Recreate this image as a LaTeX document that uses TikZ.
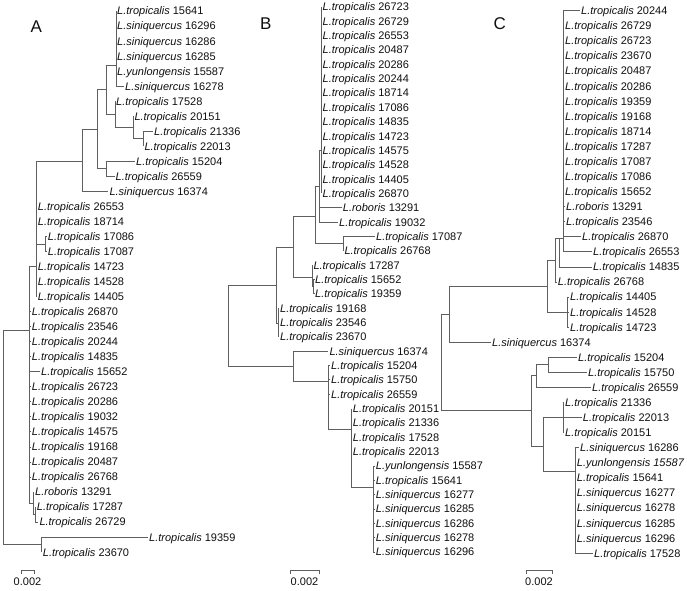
\documentclass[tikz,border=0pt]{standalone}
\usepackage{fontspec}
\setmainfont{Liberation Sans}
\definecolor{brc}{RGB}{95,95,95}
\definecolor{txc}{RGB}{15,15,15}
\newcommand\LTr{\textit{L.tropicalis}}
\newcommand\LSi{\textit{L.siniquercus}}
\newcommand\LYu{\textit{L.yunlongensis}}
\newcommand\LRo{\textit{L.roboris}}
\begin{document}
\begin{tikzpicture}[x=1pt,y=-1pt,
  br/.style={draw=brc, line width=0.8pt},
  lab/.style={anchor=west, inner xsep=1pt, inner ysep=0pt, text height=7.9pt, text depth=0pt, font=\fontsize{11}{13}\selectfont, text=txc},
  panel/.style={inner sep=0pt, font=\fontsize{17}{20}\selectfont, text=txc},
  sbtext/.style={inner sep=0pt, font=\fontsize{11}{13}\selectfont, text=txc}]
\useasboundingbox (0,0) rectangle (687,590);

% ================= Panel A =================
\node[panel] (pA) at (36.3,26.7) {A};
\coordinate (Ar) at (3.3,437);
\coordinate (AP) at (29.5,330);
\coordinate (An8) at (36,266.5);
\coordinate (An9) at (45,244);
\coordinate (An7) at (82.7,161);
\coordinate (An5) at (97.3,129);
\coordinate (An4) at (106,89.3);
\coordinate (An6) at (106,168.8);
\coordinate (Ac6) at (116,65);
\coordinate (An1) at (115,114.3);
\coordinate (An2) at (133.3,127.5);
\coordinate (An3) at (143.3,138.8);
\coordinate (AQ) at (33.3,503);
\coordinate (AR) at (35,514.5);
\coordinate (AS) at (41.7,544.6);

\node[lab] (a0) at (116,11) {\LTr{} 15641};
\node[lab] (a1) at (116,26.0) {\LSi{} 16296};
\node[lab] (a2) at (116,41.1) {\LSi{} 16286};
\node[lab] (a3) at (116,56.1) {\LSi{} 16285};
\node[lab] (a4) at (116,71.1) {\LYu{} 15587};
\node[lab] (a5) at (124,86.2) {\LSi{} 16278};
\node[lab] (a6) at (115,101.2) {\LTr{} 17528};
\node[lab] (a7) at (133.3,116.2) {\LTr{} 20151};
\node[lab] (a8) at (153,131.2) {\LTr{} 21336};
\node[lab] (a9) at (143.3,146.3) {\LTr{} 22013};
\node[lab] (a10) at (135,161.3) {\LTr{} 15204};
\node[lab] (a11) at (114.5,176.3) {\LTr{} 26559};
\node[lab] (a12) at (108.3,191.4) {\LSi{} 16374};
\node[lab] (a13) at (36.7,206.4) {\LTr{} 26553};
\node[lab] (a14) at (36.7,221.4) {\LTr{} 18714};
\node[lab] (a15) at (46.7,236.5) {\LTr{} 17086};
\node[lab] (a16) at (46.7,251.5) {\LTr{} 17087};
\node[lab] (a17) at (36.7,266.5) {\LTr{} 14723};
\node[lab] (a18) at (36.7,281.5) {\LTr{} 14528};
\node[lab] (a19) at (36.7,296.6) {\LTr{} 14405};
\node[lab] (a20) at (30.7,311.6) {\LTr{} 26870};
\node[lab] (a21) at (30.7,326.6) {\LTr{} 23546};
\node[lab] (a22) at (30.7,341.7) {\LTr{} 20244};
\node[lab] (a23) at (30.7,356.7) {\LTr{} 14835};
\node[lab] (a24) at (40,371.7) {\LTr{} 15652};
\node[lab] (a25) at (30.7,386.8) {\LTr{} 26723};
\node[lab] (a26) at (30.7,401.8) {\LTr{} 20286};
\node[lab] (a27) at (30.7,416.8) {\LTr{} 19032};
\node[lab] (a28) at (30.7,431.8) {\LTr{} 14575};
\node[lab] (a29) at (30.7,446.9) {\LTr{} 19168};
\node[lab] (a30) at (30.7,461.9) {\LTr{} 20487};
\node[lab] (a31) at (30.7,476.9) {\LTr{} 26768};
\node[lab] (a32) at (34,492.0) {\LRo{} 13291};
\node[lab] (a33) at (35.7,507.0) {\LTr{} 17287};
\node[lab] (a34) at (38.3,522.0) {\LTr{} 26729};
\node[lab] (a35) at (148,537.1) {\LTr{} 19359};
\node[lab] (a36) at (41.7,552.1) {\LTr{} 23670};

\draw[br] (Ar) |- (AP);
\draw[br] (Ar) |- (AS);
\draw[br] (AP) |- (An8);
\foreach \t in {a20,a21,a22,a23,a24,a25,a26,a27,a28,a29,a30,a31} \draw[br] (AP) |- (\t.west);
\draw[br] (AP) |- (AQ);
\draw[br] (An8) |- (An7);
\draw[br] (An8) |- (An9);
\foreach \t in {a13,a14,a17,a18,a19} \draw[br] (An8) |- (\t.west);
\foreach \t in {a15,a16} \draw[br] (An9) |- (\t.west);
\draw[br] (An7) |- (An5);
\draw[br] (An7) |- (a12.west);
\draw[br] (An5) |- (An4);
\draw[br] (An5) |- (An6);
\foreach \t in {a10,a11} \draw[br] (An6) |- (\t.west);
\draw[br] (An4) |- (Ac6);
\draw[br] (An4) |- (An1);
\foreach \t in {a0,a1,a2,a3,a4,a5} \draw[br] (Ac6) |- (\t.west);
\draw[br] (An1) |- (a6.west);
\draw[br] (An1) |- (An2);
\draw[br] (An2) |- (a7.west);
\draw[br] (An2) |- (An3);
\foreach \t in {a8,a9} \draw[br] (An3) |- (\t.west);
\draw[br] (AQ) |- (a32.west);
\draw[br] (AQ) |- (AR);
\foreach \t in {a33,a34} \draw[br] (AR) |- (\t.west);
\foreach \t in {a35,a36} \draw[br] (AS) |- (\t.west);

\coordinate (sa1) at (21,570.5);
\coordinate (sa2) at (34,570.5);
\draw[br, line width=0.7pt] ([yshift=-3.5pt]sa1) -- (sa1) -- (sa2) -- ([yshift=-3.5pt]sa2);
\node[sbtext] (ta) at (27.5,581.5) {0.002};

% ================= Panel B =================
\node[panel] (pB) at (265.8,23.8) {B};
\coordinate (Br) at (228,326);
\coordinate (Bu) at (276.7,285);
\coordinate (Bv) at (278.3,323);
\coordinate (BU0) at (293.3,247);
\coordinate (Bw) at (312.3,277.3);
\coordinate (Bw2) at (313.8,286.6);
\coordinate (BU1) at (315.7,216.7);
\coordinate (BU2) at (319.5,186);
\coordinate (BS) at (321.5,150);
\coordinate (Bx) at (343.3,243.6);
\coordinate (Bl) at (293.3,366.7);
\coordinate (By) at (328.3,381.7);
\coordinate (Bz) at (351.7,429);
\coordinate (Bq) at (373.3,487);

\node[lab] (b0) at (321.5,7.0) {\LTr{} 26723};
\node[lab] (b1) at (321.5,21.3) {\LTr{} 26729};
\node[lab] (b2) at (321.5,35.7) {\LTr{} 26553};
\node[lab] (b3) at (321.5,50.0) {\LTr{} 20487};
\node[lab] (b4) at (321.5,64.4) {\LTr{} 20286};
\node[lab] (b5) at (321.5,78.7) {\LTr{} 20244};
\node[lab] (b6) at (321.5,93.0) {\LTr{} 18714};
\node[lab] (b7) at (321.5,107.4) {\LTr{} 17086};
\node[lab] (b8) at (321.5,121.7) {\LTr{} 14835};
\node[lab] (b9) at (321.5,136.1) {\LTr{} 14723};
\node[lab] (b10) at (321.5,150.4) {\LTr{} 14575};
\node[lab] (b11) at (321.5,164.7) {\LTr{} 14528};
\node[lab] (b12) at (321.5,179.1) {\LTr{} 14405};
\node[lab] (b13) at (321.5,193.4) {\LTr{} 26870};
\node[lab] (b14) at (341.7,207.8) {\LRo{} 13291};
\node[lab] (b15) at (338,222.1) {\LTr{} 19032};
\node[lab] (b16) at (375,236.4) {\LTr{} 17087};
\node[lab] (b17) at (343.3,250.8) {\LTr{} 26768};
\node[lab] (b18) at (312.3,265.1) {\LTr{} 17287};
\node[lab] (b19) at (314,279.5) {\LTr{} 15652};
\node[lab] (b20) at (314,293.8) {\LTr{} 19359};
\node[lab] (b21) at (279,308.1) {\LTr{} 19168};
\node[lab] (b22) at (279,322.5) {\LTr{} 23546};
\node[lab] (b23) at (279,336.8) {\LTr{} 23670};
\node[lab] (b24) at (328.3,351.2) {\LSi{} 16374};
\node[lab] (b25) at (330,365.5) {\LTr{} 15204};
\node[lab] (b26) at (330,379.8) {\LTr{} 15750};
\node[lab] (b27) at (330,394.2) {\LTr{} 26559};
\node[lab] (b28) at (351.7,408.5) {\LTr{} 20151};
\node[lab] (b29) at (351.7,422.9) {\LTr{} 21336};
\node[lab] (b30) at (351.7,437.2) {\LTr{} 17528};
\node[lab] (b31) at (351.7,451.5) {\LTr{} 22013};
\node[lab] (b32) at (374.7,465.9) {\LYu{} 15587};
\node[lab] (b33) at (374.7,480.2) {\LTr{} 15641};
\node[lab] (b34) at (374.7,494.6) {\LSi{} 16277};
\node[lab] (b35) at (374.7,508.9) {\LSi{} 16285};
\node[lab] (b36) at (374.7,523.2) {\LSi{} 16286};
\node[lab] (b37) at (374.7,537.6) {\LSi{} 16278};
\node[lab] (b38) at (374.7,551.9) {\LSi{} 16296};

\draw[br] (Br) |- (Bu);
\draw[br] (Br) |- (Bl);
\draw[br] (Bu) |- (BU0);
\draw[br] (Bu) |- (Bv);
\foreach \t in {b21,b22,b23} \draw[br] (Bv) |- (\t.west);
\draw[br] (BU0) |- (BU1);
\draw[br] (BU0) |- (Bw);
\draw[br] (Bw) |- (b18.west);
\draw[br] (Bw) |- (Bw2);
\foreach \t in {b19,b20} \draw[br] (Bw2) |- (\t.west);
\draw[br] (BU1) |- (BU2);
\draw[br] (BU1) |- (Bx);
\foreach \t in {b16,b17} \draw[br] (Bx) |- (\t.west);
\draw[br] (BU2) |- (BS);
\foreach \t in {b14,b15} \draw[br] (BU2) |- (\t.west);
\foreach \t in {b0,b1,b2,b3,b4,b5,b6,b7,b8,b9,b10,b11,b12,b13} \draw[br] (BS) |- (\t.west);
\draw[br] (Bl) |- (b24.west);
\draw[br] (Bl) |- (By);
\foreach \t in {b25,b26,b27} \draw[br] (By) |- (\t.west);
\draw[br] (By) |- (Bz);
\foreach \t in {b28,b29,b30,b31} \draw[br] (Bz) |- (\t.west);
\draw[br] (Bz) |- (Bq);
\foreach \t in {b32,b33,b34,b35,b36,b37,b38} \draw[br] (Bq) |- (\t.west);

\coordinate (sb1) at (290,570.5);
\coordinate (sb2) at (319,570.5);
\draw[br, line width=0.7pt] ([yshift=-3.5pt]sb1) -- (sb1) -- (sb2) -- ([yshift=-3.5pt]sb2);
\node[sbtext] (tb) at (304.5,581.5) {0.002};

% ================= Panel C =================
\node[panel] (pC) at (499.7,23.8) {C};
\coordinate (Cr) at (441.7,361.7);
\coordinate (Ce) at (449,314.5);
\coordinate (Cd) at (547.3,286.7);
\coordinate (Cc) at (555,260);
\coordinate (Cb) at (559.3,238);
\coordinate (Ca) at (563.3,238);
\coordinate (Cl) at (567.7,312.1);
\coordinate (Cf) at (531.7,410);
\coordinate (Cg) at (536,375.7);
\coordinate (Ci) at (548.3,364.8);
\coordinate (Ch) at (543.3,446.7);
\coordinate (Cj) at (563.3,417.6);
\coordinate (Ck) at (575.7,471.7);

\node[lab] (c0) at (580,10.7) {\LTr{} 20244};
\node[lab] (c1) at (564,25.8) {\LTr{} 26729};
\node[lab] (c2) at (564,40.8) {\LTr{} 26723};
\node[lab] (c3) at (564,55.9) {\LTr{} 23670};
\node[lab] (c4) at (564,71.0) {\LTr{} 20487};
\node[lab] (c5) at (564,86.1) {\LTr{} 20286};
\node[lab] (c6) at (564,101.1) {\LTr{} 19359};
\node[lab] (c7) at (564,116.2) {\LTr{} 19168};
\node[lab] (c8) at (564,131.3) {\LTr{} 18714};
\node[lab] (c9) at (564,146.3) {\LTr{} 17287};
\node[lab] (c10) at (564,161.4) {\LTr{} 17087};
\node[lab] (c11) at (564,176.5) {\LTr{} 17086};
\node[lab] (c12) at (564,191.5) {\LTr{} 15652};
\node[lab] (c13) at (565,206.6) {\LRo{} 13291};
\node[lab] (c14) at (565,221.7) {\LTr{} 23546};
\node[lab] (c15) at (581,236.8) {\LTr{} 26870};
\node[lab] (c16) at (592,251.8) {\LTr{} 26553};
\node[lab] (c17) at (592,266.9) {\LTr{} 14835};
\node[lab] (c18) at (556.7,282.0) {\LTr{} 26768};
\node[lab] (c19) at (569,297.0) {\LTr{} 14405};
\node[lab] (c20) at (569,312.1) {\LTr{} 14528};
\node[lab] (c21) at (569,327.2) {\LTr{} 14723};
\node[lab] (c22) at (491,342.2) {\LSi{} 16374};
\node[lab] (c23) at (577,357.3) {\LTr{} 15204};
\node[lab] (c24) at (587,372.4) {\LTr{} 15750};
\node[lab] (c25) at (591,387.5) {\LTr{} 26559};
\node[lab] (c26) at (564,402.5) {\LTr{} 21336};
\node[lab] (c27) at (581.7,417.6) {\LTr{} 22013};
\node[lab] (c28) at (564,432.7) {\LTr{} 20151};
\node[lab] (c29) at (579,447.7) {\LSi{} 16286};
\node[lab] (c30) at (575.7,462.8) {\textit{L.yunlongensis 15587}};
\node[lab] (c31) at (575.7,477.9) {\LTr{} 15641};
\node[lab] (c32) at (575.7,492.9) {\LSi{} 16277};
\node[lab] (c33) at (575.7,508.0) {\LSi{} 16278};
\node[lab] (c34) at (575.7,523.1) {\LSi{} 16285};
\node[lab] (c35) at (575.7,538.2) {\LSi{} 16296};
\node[lab] (c36) at (593,553.2) {\LTr{} 17528};

\draw[br] (Cr) |- (Ce);
\draw[br] (Cr) |- (Cf);
\draw[br] (Ce) |- (Cd);
\draw[br] (Ce) |- (c22.west);
\draw[br] (Cd) |- (Cc);
\draw[br] (Cd) |- (Cl);
\foreach \t in {c19,c20,c21} \draw[br] (Cl) |- (\t.west);
\draw[br] (Cc) |- (Cb);
\draw[br] (Cc) |- (c18.west);
\draw[br] (Cb) |- (Ca);
\draw[br] (Cb) |- (c17.west);
\foreach \t in {c0,c1,c2,c3,c4,c5,c6,c7,c8,c9,c10,c11,c12,c13,c14,c15,c16} \draw[br] (Ca) |- (\t.west);
\draw[br] (Cf) |- (Cg);
\draw[br] (Cf) |- (Ch);
\draw[br] (Cg) |- (Ci);
\draw[br] (Cg) |- (c25.west);
\foreach \t in {c23,c24} \draw[br] (Ci) |- (\t.west);
\draw[br] (Ch) |- (Cj);
\draw[br] (Ch) |- (Ck);
\foreach \t in {c26,c27,c28} \draw[br] (Cj) |- (\t.west);
\foreach \t in {c29,c30,c31,c32,c33,c34,c35,c36} \draw[br] (Ck) |- (\t.west);

\coordinate (sc1) at (526,570.5);
\coordinate (sc2) at (552,570.5);
\draw[br, line width=0.7pt] ([yshift=-3.5pt]sc1) -- (sc1) -- (sc2) -- ([yshift=-3.5pt]sc2);
\node[sbtext] (tc) at (539,581.5) {0.002};
\end{tikzpicture}
\end{document}
